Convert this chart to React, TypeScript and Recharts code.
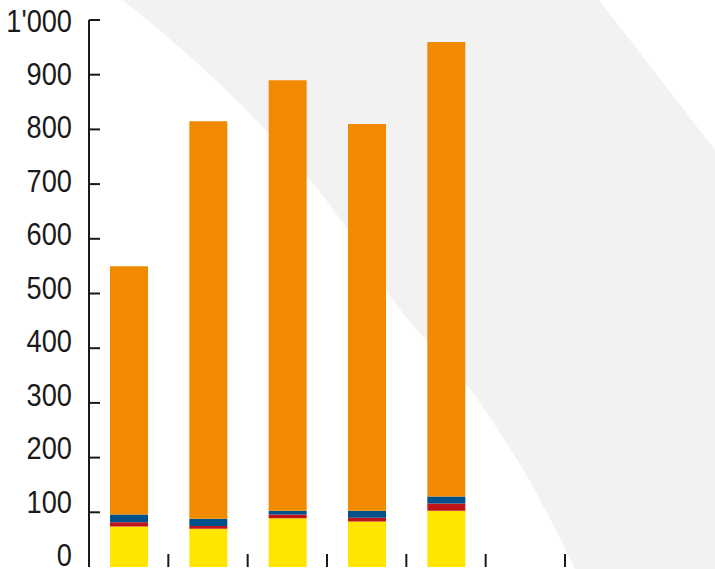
import React from 'react';
import { BarChart, Bar, XAxis, YAxis } from 'recharts';

const categories = ['1', '2', '3', '4', '5', '6'];
const yellowValues = [74, 70, 89, 83, 103, null];
const redValues = [8, 5, 7, 7, 13, null];
const blueValues = [14, 13, 7, 13, 13, null];
const orangeValues = [454, 727, 787, 707, 831, null];
const yTicks = [0, 100, 200, 300, 400, 500, 600, 700, 800, 900, 1000];

const data = categories.map((c, i) => ({
  name: c,
  yellow: yellowValues[i],
  red: redValues[i],
  blue: blueValues[i],
  orange: orangeValues[i],
}));

const W = 715;
const H = 569;
const AXIS_X = 89;
const PLOT_RIGHT = 565;
const BAND = (PLOT_RIGHT - AXIS_X) / categories.length;
const FONT = "'Liberation Sans', Arial, sans-serif";

const fmt = (v: number) => (v >= 1000 ? v.toString().replace(/(\d)(?=(\d{3})+$)/g, "$1'") : String(v));

// tick marks point inward, labels are spaced a bit tighter than the ticks
const YTick = (props: any) => {
  const { x, y, payload } = props;
  const v = payload.value as number;
  const labelCenter = 20 + ((1000 - v) / 1000) * 534.7;
  return (
    <g>
      {v > 0 && <line x1={x} x2={x + 11} y1={y} y2={y} stroke="#1a1a1a" strokeWidth={2} />}
      <text
        transform={`translate(72, ${labelCenter + 11.5}) scale(0.85, 1)`}
        x={0}
        y={0}
        textAnchor="end"
        fontFamily={FONT}
        fontSize={32}
        fill="#1a1a1a"
      >
        {fmt(v)}
      </text>
    </g>
  );
};

// small ticks between categories
const XTick = (props: any) => {
  const { x } = props;
  const bx = x + BAND / 2;
  return <line x1={bx} x2={bx} y1={554} y2={567} stroke="#1a1a1a" strokeWidth={2} />;
};

const App: React.FC = () => {
  return (
    <div style={{ position: 'absolute', left: 0, top: 0, width: W, height: H, background: '#fff' }}>
      <svg width={W} height={H} style={{ position: 'absolute', left: 0, top: 0 }}>
        <path
          d="M123,0 C200,62 260,120 306,175 C345,222 370,262 386,290 C420,340 455,365 478,400 C505,440 525,470 540,500 C555,528 565,548 575,569 L715,569 L715,150 L599,0 Z"
          fill="#f2f2f2"
        />
      </svg>
      <div style={{ position: 'absolute', left: 0, top: 0 }}>
        <BarChart
          width={W}
          height={H}
          data={data}
          margin={{ top: 20, right: W - PLOT_RIGHT, bottom: 0, left: 0 }}
          barSize={38}
        >
          <XAxis
            dataKey="name"
            height={2}
            axisLine={false}
            tickLine={false}
            tickSize={0}
            tickMargin={0}
            tick={(p: any) => <XTick {...p} />}
            interval={0}
          />
          <YAxis
            width={AXIS_X}
            domain={[0, 1000]}
            ticks={yTicks}
            interval={0}
            axisLine={{ stroke: '#1a1a1a', strokeWidth: 2 }}
            tickLine={false}
            tickSize={0}
            tickMargin={0}
            tick={(p: any) => <YTick {...p} />}
          />
          <Bar dataKey="yellow" stackId="a" fill="#ffe500" isAnimationActive={false} />
          <Bar dataKey="red" stackId="a" fill="#c0141a" isAnimationActive={false} />
          <Bar dataKey="blue" stackId="a" fill="#005189" isAnimationActive={false} />
          <Bar dataKey="orange" stackId="a" fill="#f18a00" isAnimationActive={false} />
        </BarChart>
      </div>
    </div>
  );
};

export default App;
